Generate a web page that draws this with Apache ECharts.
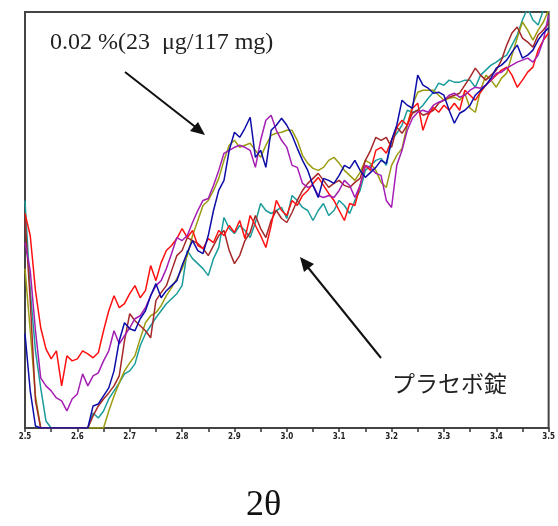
<!DOCTYPE html>
<html>
<head>
<meta charset="utf-8">
<script src="https://cdn.jsdelivr.net/npm/echarts@6/dist/echarts.min.js"></script>
<style>
  html, body { margin: 0; padding: 0; background: #fff; }
  #box { width: 558px; height: 526px; }
</style>
</head>
<body>
<div id="box"></div>
<script>
// 2θ 范围 2.5 ~ 3.5，步长 0.01
var xStart = 2.5;
var xStep = 0.01;
var xTicks = ['2.5', '2.6', '2.7', '2.8', '2.9', '3.0', '3.1', '3.2', '3.3', '3.4', '3.5'];

// 各条曲线强度（任意单位）
var redVals = [
    214, 192, 137, 100, 79, 69, 77, 42, 72, 67,
    69, 77, 74, 70, 75, 97, 117, 132, 120, 124,
    134, 142, 130, 137, 162, 147, 165, 177, 182, 189,
    199, 190, 197, 182, 179, 189, 185, 197, 192, 202,
    195, 207, 189, 212, 202, 192, 180, 202, 227, 217,
    212, 227, 222, 232, 237, 244, 250, 242, 234, 227,
    217, 207, 224, 222, 242, 262, 257, 277, 280, 274,
    287, 300, 307, 302, 319, 324, 297, 312, 320, 315,
    322, 317, 324, 317, 337, 332, 327, 335, 342, 347,
    352, 357, 360, 352, 340, 347, 355, 360, 377, 387, 394
];
var purpleVals = [
    185, 157, 97, 50, 42, 37, 30, 27, 17, 29,
    34, 54, 42, 52, 55, 67, 77, 97, 84, 92,
    100, 109, 112, 120, 132, 142, 147, 159, 174, 190,
    187, 192, 205, 217, 227, 229, 242, 257, 274, 277,
    280, 282, 280, 277, 260, 287, 307, 312, 297, 287,
    280, 262, 260, 244, 240, 242, 232, 230, 232, 230,
    237, 247, 242, 230, 242, 262, 260, 254, 252, 227,
    220, 262, 277, 297, 309, 315, 317, 315, 322, 325,
    327, 332, 334, 330, 332, 337, 340, 339, 342, 347,
    354, 355, 359, 362, 365, 367, 369, 365, 372, 387, 412
];
var blueVals = [
    94, 37, 2, 0, 0, 0, 0, 0, 0, 0,
    0, 0, 0, 22, 24, 32, 40, 57, 87, 105,
    99, 97, 109, 117, 132, 144, 130, 137, 142, 147,
    162, 175, 187, 177, 174, 192, 217, 237, 247, 277,
    295, 290, 299, 310, 270, 277, 260, 297, 302, 309,
    302, 292, 279, 267, 257, 242, 230, 249, 247, 244,
    252, 262, 259, 267, 257, 250, 255, 260, 267, 264,
    287, 302, 327, 322, 319, 352, 342, 339, 334, 335,
    332, 317, 304, 314, 317, 322, 332, 337, 342, 349,
    359, 362, 367, 375, 382, 369, 372, 377, 387, 394, 399
];
var oliveVals = [
    159, 97, 32, 0, 0, 0, 0, 0, 0, 0,
    0, 0, 0, 0, 0, 0, 17, 32, 45, 57,
    65, 72, 89, 105, 112, 115, 122, 132, 140, 149,
    159, 172, 192, 207, 222, 227, 237, 249, 267, 282,
    287, 280, 282, 284, 277, 270, 282, 292, 294, 295,
    297, 297, 287, 272, 264, 259, 257, 260, 267, 270,
    264, 257, 252, 247, 255, 267, 264, 257, 245, 240,
    262, 272, 279, 302, 322, 335, 337, 337, 337, 332,
    327, 329, 330, 327, 334, 319, 315, 337, 352, 347,
    340, 349, 354, 372, 389, 405, 397, 387, 397, 405, 417
];
var tealVals = [
    227, 137, 77, 40, 7, 0, 0, 0, 0, 0,
    0, 0, 0, 15, 10, 17, 29, 37, 45, 54,
    57, 64, 82, 94, 102, 110, 117, 124, 129, 134,
    142, 177, 169, 164, 159, 152, 169, 180, 210, 199,
    194, 202, 197, 190, 205, 224, 217, 214, 217, 220,
    209, 232, 227, 220, 217, 207, 217, 224, 212, 217,
    227, 222, 214, 227, 237, 257, 262, 267, 269, 262,
    287, 294, 302, 317, 315, 317, 322, 329, 335, 344,
    342, 347, 345, 345, 347, 347, 340, 352, 357, 362,
    365, 369, 372, 382, 392, 407, 419, 407, 402, 417, 419
];
var brownVals = [
    209, 127, 27, 0, 0, 0, 0, 0, 0, 0,
    0, 0, 0, 12, 22, 29, 35, 42, 52, 87,
    114, 107, 102, 97, 90, 127, 135, 142, 157, 172,
    177, 190, 187, 184, 179, 172, 182, 192, 197, 177,
    164, 172, 187, 195, 212, 199, 190, 207, 217, 209,
    205, 215, 227, 237, 244, 249, 254, 247, 240, 244,
    247, 242, 240, 245, 249, 267, 277, 290, 287, 290,
    280, 300, 294, 302, 314, 317, 312, 314, 317, 324,
    327, 330, 332, 334, 342, 350, 359, 352, 347, 352,
    357, 367, 382, 394, 400, 389, 385, 380, 392, 397, 404
];

function toPairs(vals) {
    return vals.map(function (v, i) {
        return [+(xStart + i * xStep).toFixed(2), v];
    });
}

function makeLine(name, vals, color) {
    return {
        name: name,
        type: 'line',
        symbol: 'none',
        data: toPairs(vals),
        clip: true,
        lineStyle: { width: 1.5, color: color }
    };
}

var myChart = echarts.init(document.getElementById('box'));
var option = {
    animation: false,
    backgroundColor: '#fff',
    grid: {
        left: 25,
        right: 5,
        top: 12,
        bottom: 98,
        show: true,
        borderColor: '#444',
        borderWidth: 2
    },
    xAxis: {
        type: 'value',
        min: 2.5,
        max: 3.5,
        interval: 0.1,
        axisLine: { lineStyle: { color: '#444', width: 2 } },
        axisTick: { length: 4, lineStyle: { color: '#333', width: 1.5 } },
        minorTick: { show: true, splitNumber: 2, length: 4, lineStyle: { color: '#333', width: 1.5 } },
        splitLine: { show: false },
        axisLabel: {
            margin: 5,
            fontSize: 8,
            fontWeight: 'bold',
            fontFamily: 'DejaVu Sans Condensed',
            color: '#222',
            formatter: function (v) {
                var s = v.toFixed(1);
                return xTicks.indexOf(s) >= 0 ? s : '';
            }
        }
    },
    yAxis: {
        type: 'value',
        min: 0,
        max: 415,
        axisLine: { show: true, lineStyle: { color: '#444', width: 2 } },
        axisTick: { show: false },
        axisLabel: { show: false },
        splitLine: { show: false }
    },
    series: [
        makeLine('teal', tealVals, '#1a9c9c'),
        makeLine('olive', oliveVals, '#9c9c10'),
        makeLine('brown', brownVals, '#a42828'),
        makeLine('red', redVals, '#ff1010'),
        makeLine('purple', purpleVals, '#a41eb4'),
        makeLine('blue', blueVals, '#0c0ca8')
    ],
    // 注释文字、箭头和轴名
    graphic: [
        {
            type: 'text',
            left: 50,
            top: 31,
            style: {
                text: '0.02 %(23  μg/117 mg)',
                font: '24px "Liberation Serif"',
                fill: '#222'
            }
        },
        {
            type: 'line',
            shape: { x1: 125, y1: 72, x2: 198, y2: 129 },
            style: { stroke: '#111', lineWidth: 2 }
        },
        {
            type: 'polygon',
            shape: { points: [[205, 135], [190, 131], [198, 122]] },
            style: { fill: '#111' }
        },
        {
            type: 'line',
            shape: { x1: 381, y1: 358, x2: 306, y2: 265 },
            style: { stroke: '#111', lineWidth: 2 }
        },
        {
            type: 'polygon',
            shape: { points: [[300, 257], [314, 264], [304, 272]] },
            style: { fill: '#111' }
        },
        {
            type: 'text',
            left: 392,
            top: 372,
            style: {
                text: 'プラセボ錠',
                font: '23px "Noto Sans CJK JP"',
                fill: '#222'
            }
        },
        {
            type: 'text',
            left: 246,
            top: 488,
            style: {
                text: '2θ',
                font: '36px "Liberation Serif"',
                fill: '#111'
            }
        }
    ]
};

myChart.setOption(option);
</script>
</body>
</html>
